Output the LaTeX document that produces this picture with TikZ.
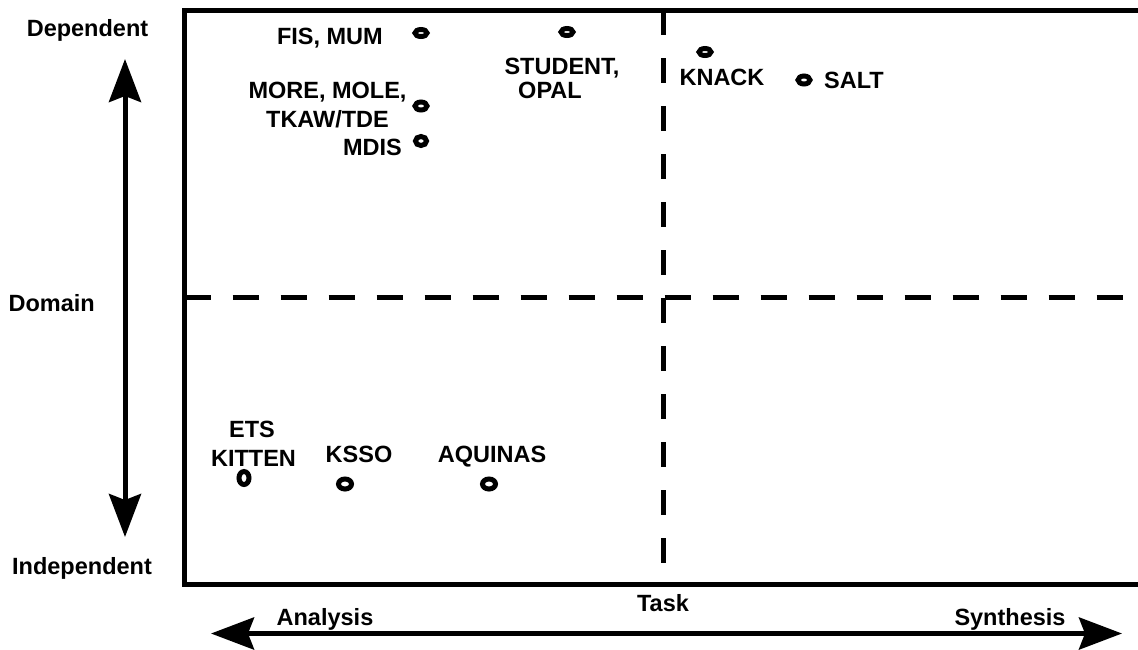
\documentclass[tikz,border=0pt]{standalone}
\usepackage{fontspec}
\setmainfont{Liberation Sans}
\usetikzlibrary{arrows.meta,shapes.geometric}
\begin{document}
\begin{tikzpicture}[x=1pt,y=-1pt,
  lbl/.style={inner sep=0pt, font=\fontsize{23.5}{27}\selectfont\bfseries, anchor=base},
  ring/.style={ellipse, draw, line width=5pt, inner sep=0pt, minimum width=12pt, minimum height=8pt},
  frameline/.style={line width=5pt},
  quad/.style={line width=5pt, dash pattern=on 26pt off 22pt},
  axis/.style={line width=5pt, {Stealth[length=43pt,width=32pt,inset=6pt]}-{Stealth[length=43pt,width=32pt,inset=6pt]}}]
\useasboundingbox (0,0) rectangle (1138,649);
\fill[white] (0,0) rectangle (1138,649);
% frame (open on the right)
\draw[frameline] (1138,10) -- (184.5,10) -- (184.5,584) -- (1138,584);
% quadrant dividers
\draw[quad] (184.5,297.5) -- (1138,297.5);
\draw[quad, dash pattern=on 25pt off 23pt] (663,10) -- (663,584);
% axes
\coordinate (vt) at (125,59);
\coordinate (vb) at (125,537);
\coordinate (hl) at (211,633.5);
\coordinate (hr) at (1122,633.5);
\draw[axis] (vt) -- (vb);
\draw[axis] (hl) -- (hr);
% axis labels
\node[lbl] (dep) at (87.5,36) {Dependent};
\node[lbl] (dom) at (51.7,311) {Domain};
\node[lbl] (ind) at (82,574) {Independent};
\node[lbl] (ana) at (325,625) {Analysis};
\node[lbl] (task) at (663,611) {Task};
\node[lbl] (syn) at (1010,625) {Synthesis};
% points
\node[ring, minimum height=7pt] (p1) at (421,33) {};
\node[lbl, anchor=base east] (l1) at (383,44) {FIS, MUM};
\node[ring, minimum height=7pt] (p2) at (567,32) {};
\node[lbl] (l2a) at (562,74) {STUDENT,};
\node[lbl] (l2b) at (550,98) {OPAL};
\node[ring] (p3) at (421,106) {};
\node[lbl] (l3a) at (327.5,98) {MORE, MOLE,};
\node[lbl] (l3b) at (327.5,127) {TKAW/TDE};
\node[ring, minimum width=11pt, minimum height=9pt] (p4) at (421,141) {};
\node[lbl, anchor=base east] (l4) at (402,155) {MDIS};
\node[ring, minimum height=7pt] (p5) at (705,52) {};
\node[lbl] (l5) at (722,85) {KNACK};
\node[ring] (p6) at (804,80) {};
\node[lbl, anchor=base west] (l6) at (824,88) {SALT};
\node[ring, minimum width=10pt, minimum height=13pt] (p7) at (244,478) {};
\node[lbl] (l7a) at (252,437) {ETS};
\node[lbl] (l7b) at (253.5,466) {KITTEN};
\node[ring, minimum width=13pt, minimum height=10pt] (p8) at (345,484) {};
\node[lbl] (l8) at (359,462) {KSSO};
\node[ring, minimum width=13pt, minimum height=10pt] (p9) at (489,484) {};
\node[lbl] (l9) at (492,462) {AQUINAS};
\end{tikzpicture}
\end{document}
